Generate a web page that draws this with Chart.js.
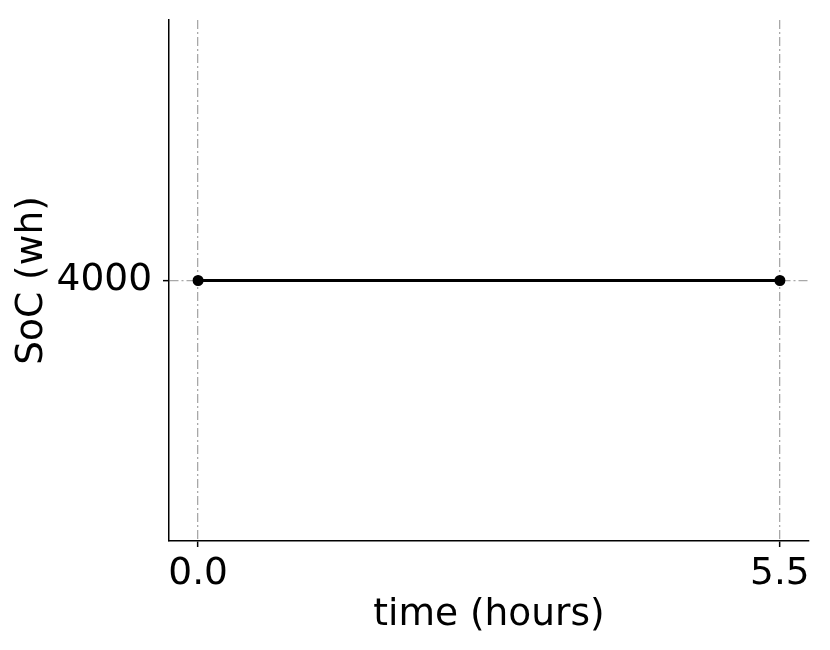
<!DOCTYPE html>
<html lang="en">
  <head>
    <meta charset="UTF-8" />
    <title>SoC over time</title>
    <script src="https://cdn.jsdelivr.net/npm/chart.js@4.4.0/dist/chart.umd.min.js"></script>
    <style>
      html, body { margin: 0; padding: 0; background: #fff; }
      #wrap { width: 830px; height: 650px; }
    </style>
  </head>
  <body>
    <div id="wrap"><canvas id="socChart"></canvas></div>
    <script>
      const timeHours = [0, 5.5];
      const socWh = [4000, 4000];
      const xTicks = [0, 5.5];
      const yTicks = [4000];

      const font = { family: "DejaVu Sans", size: 37.5, lineHeight: 1.2 };
      const gridGray = "#a8a8a8";
      const gridDash = [9, 3, 2, 3];

      const ctx = document.getElementById("socChart").getContext("2d");
      const chart = new Chart(ctx, {
        type: "line",
        data: {
          datasets: [
            {
              data: timeHours.map((t, i) => ({ x: t, y: socWh[i] })),
              borderColor: "#000",
              backgroundColor: "#000",
              borderWidth: 3,
              pointRadius: 4,
              pointHoverRadius: 4,
              fill: false,
            },
          ],
        },
        options: {
          responsive: true,
          maintainAspectRatio: false,
          animation: false,
          layout: { padding: { top: 20, right: 21, left: 0, bottom: 0 } },
          plugins: { legend: { display: false }, tooltip: { enabled: false } },
          scales: {
            x: {
              type: "linear",
              min: -0.275,
              max: 5.775,
              afterBuildTicks: (s) => { s.ticks = xTicks.map((v) => ({ value: v })); },
              afterFit: (s) => { s.height = 109; s.paddingLeft = 0; s.paddingRight = 0; },
              ticks: {
                color: "#000",
                font: font,
                padding: 5,
                maxRotation: 0,
                callback: (v) => v.toFixed(1),
              },
              grid: {
                color: gridGray,
                lineWidth: 1.3,
                tickColor: "#000",
                tickLength: 6,
                tickWidth: 1.5,
              },
              border: { display: true, color: "#000", width: 1.5, dash: gridDash },
              title: {
                display: true,
                text: "time (hours)",
                color: "#000",
                font: font,
                padding: { top: 0, bottom: 12 },
              },
            },
            y: {
              min: 3600,
              max: 4400,
              afterBuildTicks: (s) => { s.ticks = yTicks.map((v) => ({ value: v })); },
              afterFit: (s) => { s.width = 169; s.paddingTop = 0; s.paddingBottom = 0; },
              ticks: {
                color: "#000",
                font: font,
                padding: 11,
                callback: (v) => String(v),
              },
              grid: {
                color: gridGray,
                lineWidth: 1.3,
                tickColor: "#000",
                tickLength: 6,
                tickWidth: 1.5,
              },
              border: { display: true, color: "#000", width: 1.5, dash: gridDash },
              title: {
                display: true,
                text: "SoC (wh)",
                color: "#000",
                font: font,
                padding: { top: 10, bottom: 0 },
              },
            },
          },
        },
      });
    </script>
  </body>
</html>
